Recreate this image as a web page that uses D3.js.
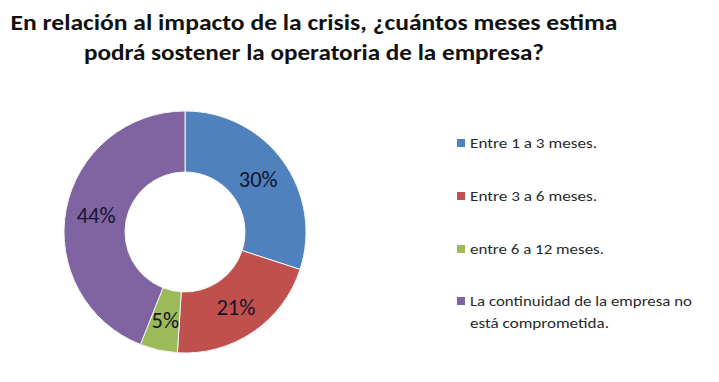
<!DOCTYPE html>
<html><head><meta charset="utf-8">
<script src="https://cdn.jsdelivr.net/npm/d3@7"></script>
<style>body{margin:0;background:#fff}svg{display:block}</style>
</head><body>
<svg id="c" width="719" height="382"></svg>
<script>
const titleLines = ["En relación al impacto de la crisis, ¿cuántos meses estima","podrá sostener la operatoria de la empresa?"];
const categories = ["Entre 1 a 3 meses.","Entre 3 a 6 meses.","entre 6 a 12 meses.","La continuidad de la empresa no está comprometida."];
const legendLines = [["Entre 1 a 3 meses."],["Entre 3 a 6 meses."],["entre 6 a 12 meses."],["La continuidad de la empresa no","está comprometida."]];
const values = [30,21,5,44];
const colors = ["#4F81BD","#C0504D","#9BBB59","#8064A2"];

const svg = d3.select("#c");
const font = "Carlito, 'Liberation Sans Narrow', 'Open Sans', sans-serif";

const title = svg.append("g");
const tw = [607, 460];
titleLines.forEach((t,i)=>{
  title.append("text").attr("x",314).attr("y",30+i*30).attr("text-anchor","middle")
    .attr("font-family",font).attr("font-weight","bold").attr("font-size",23).attr("fill","#111")
    .attr("textLength",tw[i]).attr("lengthAdjust","spacingAndGlyphs").text(t);
});

const cx=185, cy=232, ro=121, ri=60;
const pie = d3.pie().sort(null).value(d=>d)(values);
const arc = d3.arc().innerRadius(ri).outerRadius(ro);
const g = svg.append("g").attr("transform",`translate(${cx},${cy})`);
g.selectAll("path").data(pie).join("path").attr("d",arc).attr("fill",(d,i)=>colors[i])
  .attr("stroke","#f4f4f4").attr("stroke-width",1);
g.selectAll("text").data(pie).join("text")
  .attr("transform",d=>`translate(${arc.centroid(d)})`)
  .attr("text-anchor","middle").attr("dy","0.35em")
  .attr("font-family",font).attr("font-size",22.5).attr("fill","#15152e")
  .text(d=>d.data+"%");

const ly=[143,196,249,301];
const lw=[[127],[127],[134],[222,139]];
const lg = svg.append("g");
legendLines.forEach((lines,i)=>{
  lg.append("rect").attr("x",457).attr("y",ly[i]-4).attr("width",8).attr("height",8).attr("fill",colors[i]);
  lines.forEach((t,j)=>{
    lg.append("text").attr("x",470).attr("y",ly[i]+j*22).attr("dy","0.35em")
      .attr("font-family",font).attr("font-size",14.5).attr("fill","#2a2a2a")
      .attr("textLength",lw[i][j]).attr("lengthAdjust","spacingAndGlyphs").text(t);
  });
});
</script>
</body></html>
